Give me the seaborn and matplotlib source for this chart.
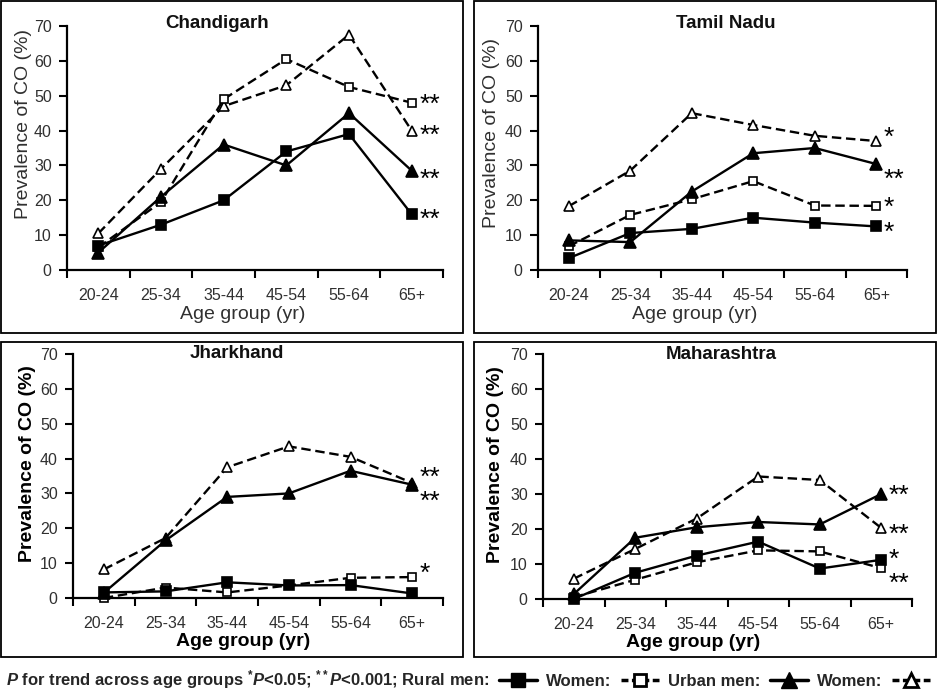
import numpy as np
import pandas as pd
import matplotlib
matplotlib.use("Agg")
import matplotlib.pyplot as plt
import seaborn as sns
from matplotlib.lines import Line2D
from matplotlib.patches import Rectangle

# ---------------- data ----------------
ages = ["20-24", "25-34", "35-44", "45-54", "55-64", "65+"]
panels = ["Chandigarh", "Tamil Nadu", "Jharkhand", "Maharashtra"]
series_names = ["Rural men", "Rural women", "Urban men", "Urban women"]

chandigarh_rural_men = [7, 13, 20, 34, 39, 16]
chandigarh_rural_women = [6.5, 19.5, 49, 60.5, 52.5, 48]
chandigarh_urban_men = [5, 21, 36, 30, 45, 28.5]
chandigarh_urban_women = [10.5, 29, 47, 53, 67.5, 40]

tamilnadu_rural_men = [3.4, 10.6, 11.8, 15, 13.6, 12.5]
tamilnadu_rural_women = [6.8, 15.8, 20.3, 25.5, 18.5, 18.4]
tamilnadu_urban_men = [8.5, 8, 22.5, 33.5, 35, 30.4]
tamilnadu_urban_women = [18.3, 28.5, 45, 41.6, 38.5, 37]

jharkhand_rural_men = [1.6, 1.9, 4.5, 3.6, 3.7, 1.3]
jharkhand_rural_women = [0, 3, 1.6, 3.6, 5.8, 6]
jharkhand_urban_men = [1.5, 16.5, 29, 30, 36.5, 32.5]
jharkhand_urban_women = [8.2, 17.2, 37.5, 43.5, 40.5, 33]

maharashtra_rural_men = [0, 7.5, 12.4, 16.4, 8.7, 11.2]
maharashtra_rural_women = [0.5, 5.5, 10.5, 13.9, 13.6, 8.8]
maharashtra_urban_men = [1.4, 17.5, 20.5, 22, 21.3, 30]
maharashtra_urban_women = [5.8, 14.3, 23, 35, 34, 20.3]

# significance of trend (rural men, rural women, urban men, urban women)
chandigarh_sig = ["**", "**", "**", "**"]
tamilnadu_sig = ["*", "*", "**", "*"]
jharkhand_sig = ["", "*", "**", "**"]
maharashtra_sig = ["*", "**", "**", "**"]

values = {
    "Chandigarh": [chandigarh_rural_men, chandigarh_rural_women, chandigarh_urban_men, chandigarh_urban_women],
    "Tamil Nadu": [tamilnadu_rural_men, tamilnadu_rural_women, tamilnadu_urban_men, tamilnadu_urban_women],
    "Jharkhand": [jharkhand_rural_men, jharkhand_rural_women, jharkhand_urban_men, jharkhand_urban_women],
    "Maharashtra": [maharashtra_rural_men, maharashtra_rural_women, maharashtra_urban_men, maharashtra_urban_women],
}
sigs = {"Chandigarh": chandigarh_sig, "Tamil Nadu": tamilnadu_sig,
        "Jharkhand": jharkhand_sig, "Maharashtra": maharashtra_sig}

rows = []
for p in panels:
    for s, vals in zip(series_names, values[p]):
        for i, (a, v) in enumerate(zip(ages, vals)):
            rows.append({"panel": p, "series": s, "age": a, "pos": i, "value": v})
df = pd.DataFrame(rows)

# ---------------- style ----------------
sns.set_style("ticks")
plt.rcParams["font.family"] = ["Liberation Sans", "DejaVu Sans"]
plt.rcParams["mathtext.fontset"] = "custom"
plt.rcParams["mathtext.rm"] = "Liberation Sans:bold"
plt.rcParams["mathtext.it"] = "Liberation Sans:italic:bold"
plt.rcParams["mathtext.bf"] = "Liberation Sans:bold"

styles = {
    "Rural men": dict(ls="-", marker="s", ms=7, mfc="black"),
    "Rural women": dict(ls=(0, (4, 2)), marker="s", ms=5.5, mfc="white"),
    "Urban men": dict(ls="-", marker="^", ms=8.5, mfc="black"),
    "Urban women": dict(ls=(0, (4, 2)), marker="^", ms=7, mfc="white"),
}
draw_order = ["Urban women", "Rural women", "Urban men", "Rural men"]

W, H = 938, 692
def fr(x0, y0, x1, y1):
    return [x0 / W, 1 - y1 / H, (x1 - x0) / W, (y1 - y0) / H]

axes_px = {
    "Chandigarh": (67, 26, 443, 270),
    "Tamil Nadu": (538, 26, 907, 270),
    "Jharkhand": (73, 354, 443, 598),
    "Maharashtra": (543, 354, 912, 599),
}
boxes_px = {
    "Chandigarh": (1, 1, 463, 333),
    "Tamil Nadu": (474, 1, 936, 333),
    "Jharkhand": (1, 342, 463, 657),
    "Maharashtra": (474, 342, 936, 657),
}
title_x = {"Chandigarh": 0.40, "Tamil Nadu": 0.51, "Jharkhand": 0.443, "Maharashtra": 0.482}
title_y = {"Chandigarh": 1.012, "Tamil Nadu": 1.012, "Jharkhand": 1.0, "Maharashtra": 1.0}
ylab_xy = {"Chandigarh": (-0.117, 0.600), "Tamil Nadu": (-0.127, 0.560),
           "Jharkhand": (-0.124, 0.550), "Maharashtra": (-0.130, 0.550)}
xlab_xy = {"Chandigarh": (0.468, -0.182), "Tamil Nadu": (0.425, -0.182),
           "Jharkhand": (0.459, -0.18), "Maharashtra": (0.407, -0.176)}
bold_labels = {"Chandigarh": False, "Tamil Nadu": False, "Jharkhand": True, "Maharashtra": True}
# vertical offsets (points) of the significance stars from the last point
sig_dy = {
    "Chandigarh": [0, 2.5, -2.5, 0],
    "Tamil Nadu": [-1, 2.5, -7.5, 6.5],
    "Jharkhand": [0, 6, -8.5, 7.5],
    "Maharashtra": [4, -7.5, 2.5, -1],
}

fig = plt.figure(figsize=(W / 100, H / 100), dpi=100)
tick_col = "#303030"
star_fs = 19

for p in panels:
    ax = fig.add_axes(fr(*axes_px[p]))
    sub = df[df.panel == p]
    for s in draw_order:
        d = sub[sub.series == s]
        st = styles[s]
        sns.lineplot(data=d, x="pos", y="value", ax=ax, color="black", lw=1.7,
                     linestyle=st["ls"], marker=st["marker"], markersize=st["ms"],
                     markerfacecolor=st["mfc"], markeredgecolor="black",
                     markeredgewidth=1.2, errorbar=None, clip_on=False)
    # significance stars
    for k, s in enumerate(series_names):
        lab = sigs[p][k]
        if not lab:
            continue
        last = sub[(sub.series == s)].iloc[-1]
        ax.annotate(lab, xy=(last.pos, last.value), xytext=(5.5, sig_dy[p][k] - 0.47 * star_fs),
                    textcoords="offset points", ha="left", va="baseline",
                    fontsize=star_fs, color="black", annotation_clip=False)

    ax.set_xlim(-0.5, 5.5)
    ax.set_ylim(0, 70)
    ax.set_yticks(np.arange(0, 71, 10))
    ax.set_xticks(np.arange(len(ages)))
    ax.set_xticklabels(ages)
    ax.set_xticks(np.arange(-0.5, len(ages), 1), minor=True)
    ax.tick_params(axis="x", which="major", length=0, pad=13, labelsize=11.5, labelcolor=tick_col)
    ax.tick_params(axis="x", which="minor", length=6, width=1.5, direction="out", color="black")
    ax.tick_params(axis="y", which="major", length=6, width=1.5, pad=5, labelsize=11.5,
                   labelcolor=tick_col, color="black")
    for sp in ["top", "right"]:
        ax.spines[sp].set_visible(False)
    for sp in ["left", "bottom"]:
        ax.spines[sp].set_linewidth(1.6)
        ax.spines[sp].set_color("black")

    fw = "bold" if bold_labels[p] else "normal"
    lab_col = "black" if bold_labels[p] else tick_col
    ax.set_ylabel("Prevalence of CO (%)", fontsize=14, fontweight=fw, color=lab_col, va="center")
    ax.yaxis.set_label_coords(*ylab_xy[p])
    ax.set_xlabel("Age group (yr)", fontsize=14, fontweight=fw, color=lab_col, va="center")
    ax.xaxis.set_label_coords(*xlab_xy[p])
    ax.text(title_x[p], title_y[p], p, transform=ax.transAxes, ha="center", va="center",
            fontsize=13.5, fontweight="bold", color="#111111")

    x0, y0, x1, y1 = boxes_px[p]
    fig.add_artist(Rectangle((x0 / W, 1 - y1 / H), (x1 - x0) / W, (y1 - y0) / H,
                             transform=fig.transFigure, fill=False, lw=1.3, ec="black"))

# ---------------- bottom legend ----------------
handles = [
    Line2D([], [], color="black", lw=2.5, ls="-", marker="s", ms=10, mfc="black", mec="black"),
    Line2D([], [], color="black", lw=2.5, ls=(0, (2, 1)), marker="s", ms=9, mfc="white", mec="black", mew=2),
    Line2D([], [], color="black", lw=2.5, ls="-", marker="^", ms=11, mfc="black", mec="black"),
    Line2D([], [], color="black", lw=2.5, ls=(0, (2, 1)), marker="^", ms=10, mfc="white", mec="black", mew=2),
]
labels = [
    r"$\mathit{P}$ for trend across age groups ${}^{*}\mathit{P}$<0.05; ${}^{**}\mathit{P}$<0.001; Rural men:",
    "Women:",
    "Urban men:",
    "Women:",
]
fig.legend(handles, labels, loc="center", bbox_to_anchor=(468 / W, 1 - 680 / H), ncol=4,
           markerfirst=False, frameon=False, handlelength=2.3, handletextpad=0.6,
           columnspacing=0.5, borderpad=0.1, borderaxespad=0.0,
           prop={"weight": "bold", "size": 12})

fig.savefig("out.png", dpi=100)
